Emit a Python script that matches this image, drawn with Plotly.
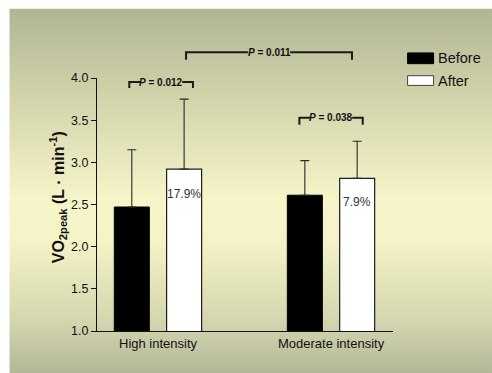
import base64
import plotly.graph_objects as go

# ---- data ----
groups = ["High intensity", "Moderate intensity"]
before_vals = [2.47, 2.61]
after_vals = [2.92, 2.81]
before_sd = [0.68, 0.41]
after_sd = [0.83, 0.44]
pct_labels = ["17.9%", "7.9%"]
pct_y = [2.63, 2.53]
series_names = ["Before", "After"]
p_texts = ["0.012", "0.038", "0.011"]
y_title = "<b>VO<sub>2peak</sub> (L · min<sup>-1</sup>)</b>"

# ---- geometry helpers (pixel layout of the 492x373 canvas) ----
W, H = 492, 373
L, R, T, B = 96.7, 392.7, 78.3, 330.7
YMIN, YMAX = 1.0, 4.0
XMIN, XMAX = -0.3526, 1.358
BW = 0.2023
OFF_BEFORE, OFF_AFTER = -0.2526, 0.0497


def px_x(px):
    return (px - L) / (R - L)


def px_y(py):
    return (B - py) / (B - T)


def dx(v):  # data x -> paper x
    return (v - XMIN) / (XMAX - XMIN)


fig = go.Figure()
fig.add_trace(go.Bar(
    x=groups, y=before_vals, name=series_names[0], width=BW, offset=OFF_BEFORE,
    marker=dict(color="black", line=dict(color="black", width=1)),
    error_y=dict(type="data", symmetric=False, array=before_sd, arrayminus=[0, 0],
                 color="#2a2a2a", thickness=1.1, width=4.5),
    showlegend=False,
))
fig.add_trace(go.Bar(
    x=groups, y=after_vals, name=series_names[1], width=BW, offset=OFF_AFTER,
    marker=dict(color="white", line=dict(color="#1e1e1e", width=1.2)),
    error_y=dict(type="data", symmetric=False, array=after_sd, arrayminus=[0, 0],
                 color="#2a2a2a", thickness=1.1, width=4.5),
    showlegend=False,
))

FONT = "Liberation Sans, Arial, sans-serif"
shapes = []
annotations = []

# y-axis title
annotations.append(dict(x=px_x(58), y=px_y(197), xref="paper", yref="paper",
                        text=y_title, textangle=-90, showarrow=False,
                        xanchor="center", yanchor="middle",
                        font=dict(family=FONT, size=16, color="#111111")))

# percent labels inside the After bars
for i, g in enumerate(groups):
    annotations.append(dict(x=i + OFF_AFTER + BW / 2, y=pct_y[i], xref="x", yref="y",
                            text=pct_labels[i], showarrow=False,
                            font=dict(family=FONT, size=12, color="#333333")))

# significance brackets: (x_left, x_right, y_line_paper, tick_len_paper, text)
brackets = [
    (-0.166, 0.202, px_y(82.3), 6.0 / (B - T), p_texts[0]),
    (0.817, 1.183, px_y(118.0), 7.0 / (B - T), p_texts[1]),
    (0.162, 1.121, px_y(52.7), 7.5 / (B - T), p_texts[2]),
]
gap_half = 0.122
for xl, xr, yl, tl, txt in brackets:
    xc = (xl + xr) / 2
    line = dict(color="#1a1a1a", width=2)
    shapes.append(dict(type="path", xref="paper", yref="paper",
                       path=f"M{dx(xl)},{yl - tl} L{dx(xl)},{yl} L{dx(xc - gap_half)},{yl}",
                       line=line))
    shapes.append(dict(type="path", xref="paper", yref="paper",
                       path=f"M{dx(xc + gap_half)},{yl} L{dx(xr)},{yl} L{dx(xr)},{yl - tl}",
                       line=line))
    annotations.append(dict(x=dx(xc), y=yl, xref="paper", yref="paper",
                            text=f"<b><i>P</i> = {txt}</b>", showarrow=False,
                            font=dict(family=FONT, size=10, color="#111111"),
                            xanchor="center", yanchor="middle"))

# manual legend
leg = [(53.3, 64.0, "black", "black", series_names[0], 58.7),
       (76.0, 85.7, "white", "#444444", series_names[1], 81.0)]
for y0, y1, fill, lc, name, ty in leg:
    shapes.append(dict(type="rect", xref="paper", yref="paper",
                       x0=px_x(407.3), x1=px_x(433.3), y0=px_y(y1), y1=px_y(y0),
                       fillcolor=fill, line=dict(color=lc, width=1)))
    annotations.append(dict(x=px_x(435.5), y=px_y(ty), xref="paper", yref="paper",
                            text=name, showarrow=False, xanchor="left", yanchor="middle",
                            font=dict(family=FONT, size=14.5, color="#111111")))

# gradient background as SVG image
svg = ('<svg xmlns="http://www.w3.org/2000/svg" width="483" height="364" '
       'preserveAspectRatio="none"><defs><linearGradient id="g" x1="0" y1="0" x2="0" y2="1">'
       '<stop offset="0" stop-color="#b0b594"/>'
       '<stop offset="0.25" stop-color="#d3d4ab"/>'
       '<stop offset="0.52" stop-color="#f6f4c9"/>'
       '<stop offset="0.64" stop-color="#f4f2c7"/>'
       '<stop offset="0.85" stop-color="#d5d7af"/>'
       '<stop offset="1" stop-color="#b2b798"/>'
       '</linearGradient></defs><rect width="483" height="364" fill="url(#g)"/></svg>')
src = "data:image/svg+xml;base64," + base64.b64encode(svg.encode()).decode()

fig.update_layout(
    width=W, height=H,
    margin=dict(l=L, r=W - R, t=T, b=H - B, pad=0),
    paper_bgcolor="white", plot_bgcolor="rgba(0,0,0,0)",
    barmode="overlay",
    showlegend=False,
    font=dict(family=FONT, color="#111111"),
    images=[dict(source=src, xref="paper", yref="paper", x=px_x(9), y=px_y(9),
                 sizex=(W - 9) / (R - L), sizey=(H - 9) / (B - T), sizing="stretch",
                 xanchor="left", yanchor="top", layer="below")],
    shapes=shapes, annotations=annotations,
    xaxis=dict(type="category", range=[XMIN, XMAX], showline=True, linecolor="#111111",
               linewidth=1.2, ticks="", showgrid=False, zeroline=False,
               tickfont=dict(size=13, color="#111111")),
    yaxis=dict(range=[YMIN, YMAX], dtick=0.5, tickformat=".1f", showline=True,
               linecolor="#111111", linewidth=1.2, ticks="outside", ticklen=5,
               tickcolor="#111111", showgrid=False, zeroline=False,
               tickfont=dict(size=12.5, color="#111111")),
)

fig.write_html("out.html")
